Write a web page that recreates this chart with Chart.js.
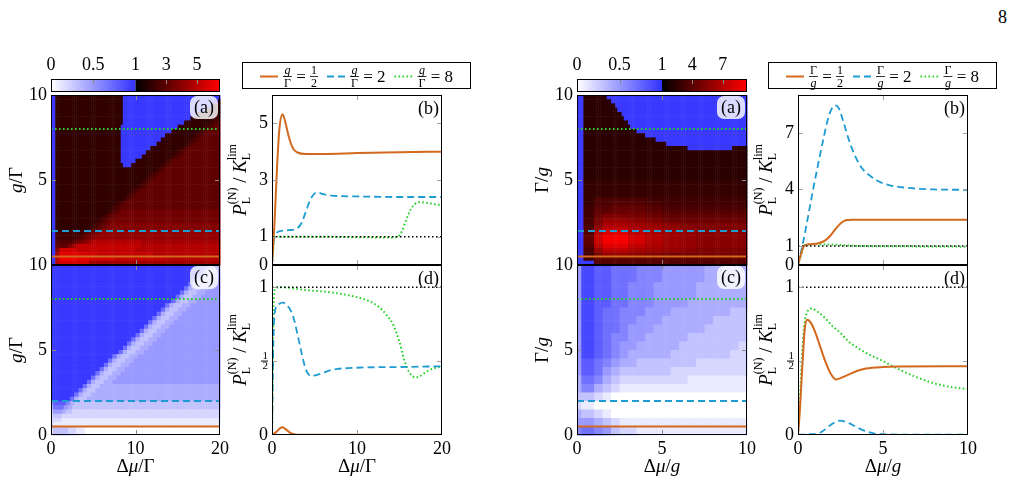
<!DOCTYPE html>
<html>
<head>
<meta charset="utf-8">
<script src="https://cdn.jsdelivr.net/npm/chart.js@4.4.1/dist/chart.umd.min.js"></script>
<style>
  body { margin: 0; background: #fff; }
  #page { position: relative; width: 1013px; height: 484px; overflow: hidden; }
  #page canvas { position: absolute; left: 0; top: 0; }
  #pageno { position: absolute; right: 6px; top: 7px; font: 18px "Liberation Serif", serif; }
</style>
</head>
<body>
<div id="page">
  <div id="pageno">8</div>
  <canvas id="cbLeft" width="1013" height="484"></canvas>
  <canvas id="heatLA" width="1013" height="484"></canvas>
  <canvas id="heatLC" width="1013" height="484"></canvas>
  <canvas id="plotLB" width="1013" height="484"></canvas>
  <canvas id="plotLD" width="1013" height="484"></canvas>
  <canvas id="cbRight" width="1013" height="484"></canvas>
  <canvas id="heatRA" width="1013" height="484"></canvas>
  <canvas id="heatRC" width="1013" height="484"></canvas>
  <canvas id="plotRB" width="1013" height="484"></canvas>
  <canvas id="plotRD" width="1013" height="484"></canvas>
</div>
<script>
// ---------------- data ----------------
const guideLevels = [0.5, 2, 8];            // the three cuts: g/Γ (left), Γ/g (right)
const legendValues = ['1/2', '2', '8'];
const refLevel = 1;                          // black dotted reference

// colour bars
const cbTicksLeft = [0, 0.5, 1, 3, 5];
const cbTicksRight = [0, 0.5, 1, 4, 7];
const cbMaxLeft = 6.5;
const cbMaxRight = 9.4;

// axis ticks
const xTicksLeft = [0, 10, 20];
const xTicksRight = [0, 5, 10];
const heatYTicksA = [5, 10];
const heatYTicksC = [0, 5, 10];
const bTicksLeft = [0, 1, 3, 5];
const bTicksRight = [0, 1, 4, 7];
const dTicks = [0, 0.5, 1];

// heat maps: 80 x 40 cells, rows listed from the top (y=10) down to y=0,
// written as runs "count:code"; code '0'..'9' -> 0.0..0.9, 'B' -> 0.97,
// 'a','b',.. -> 1.35, 1.70, .. (step 0.35)
const heatCols = 80;
const heatRowCount = 40;

const heatLeftA = [
  '2:B 32:c 46:B',
  '2:B 32:c 45:B 1:c',
  '2:B 32:c 42:B 4:c',
  '2:B 32:c 39:B 7:c',
  '2:B 32:c 35:B 11:c',
  '2:B 32:c 32:B 11:c 2:d 1:e',
  '2:B 32:c 29:B 12:c 2:d 2:e 1:f',
  '2:B 31:c 27:B 13:c 2:d 2:e 3:f',
  '2:B 31:c 24:B 13:c 2:d 2:e 6:f',
  '2:B 31:c 21:B 14:c 2:d 2:e 8:f',
  '2:B 31:c 19:B 14:c 2:d 2:e 10:f',
  '2:B 31:c 17:B 14:c 2:d 2:e 12:f',
  '2:B 31:c 14:B 14:c 2:d 2:e 15:f',
  '2:B 31:c 12:B 14:c 2:d 2:e 17:f',
  '2:B 31:c 10:B 14:c 2:d 2:e 19:f',
  '2:B 31:c 7:B 14:c 2:d 2:e 22:f',
  '2:B 32:c 4:B 14:c 2:d 2:e 24:f',
  '2:B 48:c 2:d 2:e 26:f',
  '2:B 45:c 2:d 2:e 29:f',
  '2:B 43:c 2:d 2:e 31:f',
  '2:B 41:c 2:d 2:e 33:f',
  '2:B 39:c 2:d 2:e 35:f',
  '2:B 36:c 2:d 2:e 38:f',
  '2:B 34:c 2:d 2:e 40:f',
  '2:B 32:c 2:d 2:e 42:f',
  '2:B 29:c 2:d 2:e 45:f',
  '2:B 27:c 2:d 2:e 47:f',
  '2:B 25:c 2:d 2:e 2:f 47:g',
  '2:B 22:c 2:d 2:e 2:f 50:g',
  '2:B 20:c 2:d 2:e 2:f 52:g',
  '2:B 18:c 2:d 2:e 2:f 2:g 52:h',
  '2:B 16:c 2:d 2:e 2:f 2:g 54:h',
  '2:B 13:d 2:e 2:f 2:g 2:h 57:i',
  '2:B 11:d 2:e 2:f 2:g 2:h 59:i',
  '2:B 9:e 2:f 2:g 2:h 2:i 24:k 37:j',
  '2:B 6:f 2:h 2:j 30:l 38:k',
  '2:B 2:h 8:m 28:l 40:k',
  '2:B 2:j 10:n 8:m 26:l 32:k',
  '2:B 2:k 8:o 6:n 12:m 24:l 26:k',
  '2:B 2:k 14:m 62:j',
];
const heatLeftC = [
  '73:B 2:7 2:4 3:3',
  '71:B 2:7 2:4 4:3 1:4',
  '69:B 2:7 2:4 4:3 3:4',
  '67:B 2:7 2:4 4:3 4:4 1:5',
  '65:B 2:7 2:4 4:3 4:4 3:5',
  '63:B 2:7 2:4 4:3 4:4 5:5',
  '61:B 2:7 2:4 4:3 4:4 7:5',
  '59:B 2:7 2:4 4:3 4:4 9:5',
  '57:B 2:7 2:4 4:3 4:4 11:5',
  '54:B 2:7 2:4 4:3 4:4 14:5',
  '52:B 2:7 2:4 4:3 4:4 16:5',
  '50:B 2:7 2:4 4:3 4:4 18:5',
  '48:B 2:7 2:4 4:3 4:4 20:5',
  '46:B 2:7 2:4 4:3 4:4 22:5',
  '44:B 2:7 2:4 4:3 4:4 24:5',
  '42:B 2:7 2:4 4:3 4:4 26:5',
  '40:B 2:7 2:4 4:3 4:4 28:5',
  '38:B 2:7 2:4 4:3 4:4 30:5',
  '36:B 2:7 2:4 4:3 4:4 32:5',
  '34:B 2:7 2:4 4:3 4:4 34:5',
  '32:B 2:7 2:4 4:3 4:4 36:5',
  '29:B 2:7 2:4 4:3 4:4 39:5',
  '27:B 2:7 2:4 4:3 4:4 41:5',
  '25:B 2:7 2:4 4:3 4:4 43:5',
  '23:B 2:7 2:4 4:3 4:4 45:5',
  '21:B 2:7 2:4 4:3 4:4 47:5',
  '19:B 2:7 2:4 4:3 4:4 49:5',
  '17:B 2:7 2:4 4:3 4:4 51:5',
  '15:B 2:7 2:4 4:3 57:4',
  '13:B 2:7 2:4 4:3 59:4',
  '11:B 2:7 2:4 4:3 61:4',
  '9:B 2:7 2:4 4:3 63:4',
  '1:5 6:8 2:6 2:4 69:3',
  '1:4 5:7 2:5 2:4 70:3',
  '1:3 4:5 2:4 3:3 70:2',
  '1:2 4:3 75:2',
  '1:2 4:2 75:1',
  '1:2 79:1',
  '1:2 7:3 4:2 4:1 64:0',
  '1:1 7:3 4:2 4:1 64:0',
];
const heatRightA = [
  '3:B 11:d 66:B',
  '3:B 13:d 64:B',
  '3:B 15:d 62:B',
  '3:B 16:d 61:B',
  '3:B 18:d 59:B',
  '3:B 19:d 58:B',
  '3:B 21:d 56:B',
  '3:B 22:d 55:B',
  '3:B 25:d 52:B',
  '3:B 29:d 48:B',
  '3:B 34:d 43:B',
  '3:B 39:d 38:B',
  '3:B 49:d 21:B 7:d',
  '3:B 77:d',
  '3:B 77:d',
  '3:B 77:d',
  '3:B 77:d',
  '3:B 77:d',
  '3:B 77:d',
  '3:B 77:d',
  '3:B 77:e',
  '3:B 77:e',
  '3:B 77:e',
  '3:B 77:e',
  '3:B 5:e 24:g 48:f',
  '3:B 5:e 8:g 16:h 8:g 40:f',
  '3:B 5:f 8:h 16:i 8:h 40:g',
  '3:B 5:f 8:i 16:j 8:i 40:h',
  '3:B 5:f 4:j 12:l 8:k 8:j 40:i',
  '3:B 5:g 4:k 12:n 8:m 8:l 40:j',
  '3:B 5:g 4:l 12:p 8:o 8:n 8:m 32:l',
  '3:B 5:h 4:n 12:r 8:p 8:o 8:n 8:m 24:l',
  '3:B 5:h 4:q 12:u 8:r 8:p 8:o 8:n 24:m',
  '3:B 5:i 4:s 12:w 8:t 8:q 8:o 8:n 24:m',
  '3:B 5:i 4:s 12:w 8:t 8:q 8:o 8:n 24:m',
  '3:B 5:h 4:q 12:u 8:r 8:p 8:o 8:n 24:m',
  '3:B 5:g 4:n 12:r 8:p 8:o 8:n 8:m 24:l',
  '3:B 5:f 4:k 12:n 8:m 8:l 40:k',
  '3:B 5:f 72:i',
  '8:B 72:h',
];
const heatRightC = [
  '2:5 6:9 8:8 12:7 12:6 20:5 20:4',
  '2:5 6:9 8:8 12:7 12:6 20:5 20:4',
  '2:5 6:9 8:8 12:7 12:6 20:5 20:4',
  '2:5 6:9 8:8 12:7 12:6 20:5 20:4',
  '2:5 6:9 8:8 8:7 12:6 20:5 24:4',
  '2:5 6:9 8:8 8:7 12:6 20:5 24:4',
  '2:5 6:9 8:8 8:7 12:6 20:5 24:4',
  '2:5 6:9 8:8 8:7 12:6 20:5 24:4',
  '2:5 6:9 8:8 8:7 12:6 16:5 28:4',
  '2:5 6:9 8:8 8:7 12:6 16:5 28:4',
  '2:5 6:9 4:8 8:7 12:6 12:5 28:4 8:3',
  '2:5 6:9 4:8 8:7 12:6 12:5 28:4 8:3',
  '2:5 6:9 4:8 8:7 8:6 12:5 24:4 16:3',
  '2:5 6:9 4:8 8:7 8:6 12:5 24:4 16:3',
  '2:5 6:9 4:8 8:7 4:6 12:5 24:4 20:3',
  '2:5 6:9 4:8 8:7 4:6 12:5 24:4 20:3',
  '2:5 6:9 4:8 4:7 8:6 8:5 20:4 28:3',
  '2:5 6:9 4:8 4:7 8:6 8:5 20:4 28:3',
  '2:5 6:9 4:8 4:7 4:6 8:5 20:4 28:3 4:2',
  '2:5 6:9 4:8 4:7 4:6 8:5 20:4 28:3 4:2',
  '2:5 6:9 4:8 4:7 4:6 4:5 20:4 28:3 8:2',
  '2:5 6:9 4:8 4:7 4:6 4:5 20:4 28:3 8:2',
  '2:5 6:8 4:7 4:6 4:5 8:4 28:3 24:2',
  '2:5 6:8 4:7 4:6 4:5 8:4 28:3 24:2',
  '2:5 6:8 4:7 4:5 4:4 24:3 36:2',
  '2:5 6:8 4:7 4:5 4:4 24:3 36:2',
  '2:4 6:7 4:6 4:4 4:3 32:2 28:1',
  '2:4 6:7 4:6 4:4 4:3 32:2 28:1',
  '2:4 6:6 4:4 4:3 4:2 60:1',
  '2:4 6:6 4:4 4:3 4:2 60:1',
  '2:3 6:3 4:2 4:1 64:0',
  '2:3 6:3 4:2 4:1 64:0',
  '2:2 6:1 72:0',
  '2:2 6:1 72:0',
  '2:4 6:3 4:2 4:1 64:0',
  '2:4 6:3 4:2 4:1 64:0',
  '2:5 6:5 4:4 4:3 4:2 60:1',
  '2:5 6:5 4:4 4:3 4:2 60:1',
  '2:6 6:7 4:6 4:5 4:3 8:2 52:1',
  '2:6 6:7 4:6 4:5 4:3 8:2 52:1',
];

// line cuts [x, y]
const leftB_half = [[0,0],[0.3,1.5],[0.6,3.5],[0.9,4.9],[1.25,5.32],[1.6,5.0],[2,4.5],[2.5,4.1],[3,3.97],[4,3.92],[6,3.92],[10,3.95],[15,3.98],[20,4.0]];
const leftB_two = [[0,0],[0.2,0.9],[0.5,1.12],[1,1.2],[2,1.23],[3,1.3],[3.5,1.5],[4,1.9],[4.5,2.3],[5,2.52],[5.3,2.56],[6,2.5],[7,2.45],[10,2.42],[15,2.4],[20,2.4]];
const leftB_eight = [[0,0],[0.3,0.95],[0.6,1.0],[5,1.0],[10,0.98],[14,0.97],[14.8,1.0],[15.3,1.2],[15.8,1.6],[16.3,1.95],[16.8,2.15],[17.4,2.22],[18,2.2],[19,2.15],[20,2.1]];
const leftD_half = [[0,0],[0.5,0.02],[1,0.048],[1.2,0.052],[1.6,0.04],[2.2,0.012],[3,0.002],[20,0.002]];
const leftD_two = [[0,0],[0.15,0.6],[0.3,0.82],[0.7,0.88],[1.3,0.895],[2,0.86],[2.5,0.8],[3,0.68],[3.5,0.55],[4,0.44],[4.6,0.4],[5.5,0.41],[7,0.44],[10,0.455],[15,0.46],[20,0.465]];
const leftD_eight = [[0,0],[0.2,0.9],[0.4,0.99],[1,1.0],[4,0.98],[7,0.965],[9,0.945],[11,0.915],[12.5,0.87],[13.5,0.81],[14.3,0.74],[15,0.63],[15.6,0.5],[16.2,0.42],[16.9,0.39],[17.5,0.4],[18.2,0.43],[19,0.45],[20,0.465]];
const rightB_half = [[0,0],[0.15,0.5],[0.35,1.0],[0.7,1.1],[1.2,1.15],[1.6,1.3],[1.9,1.55],[2.2,1.9],[2.5,2.2],[2.8,2.37],[3.2,2.4],[5,2.4],[10,2.4]];
const rightB_two = [[0,0],[0.3,1.2],[0.6,2.6],[0.9,4.05],[1.2,5.4],[1.5,6.7],[1.8,7.85],[2.0,8.3],[2.2,8.45],[2.4,8.3],[2.7,7.5],[3.0,6.6],[3.3,5.9],[3.7,5.2],[4.2,4.75],[4.7,4.45],[5.4,4.22],[6.5,4.08],[8,4.0],[10,3.98]];
const rightB_eight = [[0,0],[0.2,0.6],[0.4,1.05],[1,1.1],[2,1.08],[3,1.03],[4,1.0],[6,0.99],[10,0.97]];
const rightD_half = [[0,0],[0.1,0.15],[0.2,0.35],[0.3,0.55],[0.4,0.72],[0.55,0.78],[0.75,0.76],[1.0,0.7],[1.3,0.6],[1.6,0.5],[1.9,0.42],[2.25,0.375],[2.6,0.39],[3,0.41],[3.5,0.435],[4,0.45],[5,0.46],[6,0.463],[10,0.465]];
const rightD_two = [[0,0],[0.5,0.005],[1,0.005],[1.5,0.03],[2,0.075],[2.45,0.097],[3,0.08],[3.5,0.05],[4,0.025],[4.5,0.01],[5,0.005],[6,0.003],[10,0.003]];
const rightD_eight = [[0,0],[0.1,0.2],[0.2,0.45],[0.35,0.72],[0.5,0.82],[0.8,0.855],[1.2,0.83],[1.6,0.79],[2,0.74],[2.5,0.69],[3,0.63],[3.5,0.59],[4,0.555],[5,0.5],[6,0.44],[7,0.39],[8,0.35],[9,0.325],[10,0.31]];

// ---------------- look ----------------
const SERIF = '"Liberation Serif", "DejaVu Serif", serif';
Chart.defaults.font.family = SERIF;
Chart.defaults.font.size = 18;
Chart.defaults.color = '#000';

const PAGE_W = 1013, PAGE_H = 484;
const YAXIS_W = 40, XAXIS_H = 28, CB_AXIS_H = 32;
const TICK_FONT = { family: SERIF, size: 18 };
const lineStyles = [
  { color: 'rgb(210, 105, 30)', dash: [], width: 2 },
  { color: 'rgb(30, 155, 210)', dash: [7, 4], width: 1.8 },
  { color: 'rgb(40, 210, 40)', dash: [1.6, 2.4], width: 2 },
];

const titleGL = [{ t: 'g', it: 1 }, { t: '/Γ' }];
const titleGR = [{ t: 'Γ/' }, { t: 'g', it: 1 }];
const titleXL = [{ t: 'Δ' }, { t: 'μ', it: 1 }, { t: '/Γ' }];
const titleXR = [{ t: 'Δ' }, { t: 'μ', it: 1 }, { t: '/' }, { t: 'g', it: 1 }];
const titleB = [{ t: 'P', it: 1 }, { t: '(N)', sz: 12, dy: -8, keep: 1 }, { t: 'L', sz: 12, dy: 6 },
  { t: ' / ' }, { t: 'K', it: 1 }, { t: 'lim', sz: 12, dy: -8, keep: 1 }, { t: 'L', sz: 12, dy: 6 }];
const titleD = titleB;

function font(sz, it) { return (it ? 'italic ' : '') + sz + 'px ' + SERIF; }

function drawRich(ctx, cx, cy, parts, rot) {
  ctx.save();
  ctx.translate(cx, cy);
  if (rot) ctx.rotate(-Math.PI / 2);
  const adv = () => {
    let x = 0, keepW = 0;
    parts.forEach(p => {
      ctx.font = font(p.sz || 19, p.it);
      const w = ctx.measureText(p.t).width;
      if (p.keep) { keepW = w; return; }
      x += Math.max(w, keepW); keepW = 0;
    });
    return x;
  };
  let x = -adv() / 2, keepW = 0;
  ctx.textBaseline = 'middle'; ctx.textAlign = 'left'; ctx.fillStyle = '#000';
  parts.forEach(p => {
    ctx.font = font(p.sz || 19, p.it);
    ctx.fillText(p.t, x, p.dy || 0);
    const w = ctx.measureText(p.t).width;
    if (p.keep) { keepW = w; return; }
    x += Math.max(w, keepW); keepW = 0;
  });
  ctx.restore();
}

function expandRow(s) {
  let out = '';
  s.split(' ').forEach(tok => {
    const [n, ch] = tok.split(':');
    out += ch.repeat(+n);
  });
  return out;
}
function cellValue(ch) {
  const k = ch.charCodeAt(0);
  if (k >= 48 && k <= 57) return (k - 48) / 10;
  if (ch === 'B') return 0.97;
  return 1 + 0.35 * (k - 96);
}
function cellColor(v, vmax) {
  if (v <= 1) {
    const c = Math.round(255 - v * 205);
    return 'rgb(' + c + ',' + c + ',255)';
  }
  const r = Math.round(255 * Math.min(1, (v - 1) / (vmax - 1)));
  return 'rgb(' + r + ',0,0)';
}

// ---------------- plugins ----------------
function heatLayer(rows, xMax, vmax) {
  const cells = rows.map(expandRow);
  return {
    id: 'heatLayer',
    beforeDatasetsDraw(chart) {
      const { ctx, scales: { x, y } } = chart;
      ctx.save();
      cells.forEach((row, r) => {
        const yTop = y.getPixelForValue(10 - 10 * r / heatRowCount);
        const yBot = y.getPixelForValue(10 - 10 * (r + 1) / heatRowCount);
        for (let c = 0; c < row.length; c++) {
          const x0 = x.getPixelForValue(xMax * c / heatCols);
          const x1 = x.getPixelForValue(xMax * (c + 1) / heatCols);
          ctx.fillStyle = cellColor(cellValue(row[c]), vmax);
          ctx.fillRect(x0, yTop, x1 - x0 + 0.5, yBot - yTop + 0.5);
        }
      });
      ctx.restore();
    }
  };
}

function colorbarLayer(ticks, vmax, pos) {
  return {
    id: 'cbLayer',
    beforeDatasetsDraw(chart) {
      const { ctx, chartArea: a, scales: { x } } = chart;
      const xm = x.getPixelForValue(1);
      ctx.save();
      let g = ctx.createLinearGradient(a.left, 0, xm, 0);
      g.addColorStop(0, cellColor(0, vmax)); g.addColorStop(1, cellColor(1, vmax));
      ctx.fillStyle = g; ctx.fillRect(a.left, a.top, xm - a.left, a.bottom - a.top);
      g = ctx.createLinearGradient(xm, 0, a.right, 0);
      g.addColorStop(0, cellColor(1.0001, vmax)); g.addColorStop(1, cellColor(vmax, vmax));
      ctx.fillStyle = g; ctx.fillRect(xm, a.top, a.right - xm, a.bottom - a.top);
      ctx.strokeStyle = '#888'; ctx.lineWidth = 1;
      ctx.beginPath();
      ticks.forEach(v => {
        if (v === 0 || v === 1) return;
        const px = Math.round(x.getPixelForValue(pos(v))) + 0.5;
        ctx.moveTo(px, a.top); ctx.lineTo(px, a.top + 5);
      });
      ctx.stroke();
      ctx.strokeStyle = '#000';
      ctx.strokeRect(a.left + 0.5, a.top + 0.5, a.right - a.left - 1, a.bottom - a.top - 1);
      ctx.restore();
    }
  };
}

function decor(o) {
  return {
    id: 'decor',
    afterDatasetsDraw(chart) {
      const { ctx, chartArea: a, scales: { x, y } } = chart;
      ctx.save();
      ctx.strokeStyle = o.tickColor; ctx.lineWidth = 1;
      ctx.beginPath();
      o.tickX.forEach(v => {
        const px = Math.round(x.getPixelForValue(v)) + 0.5;
        ctx.moveTo(px, a.top); ctx.lineTo(px, a.top + 5);
        ctx.moveTo(px, a.bottom); ctx.lineTo(px, a.bottom - 5);
      });
      o.tickY.forEach(v => {
        const py = Math.round(y.getPixelForValue(v)) + 0.5;
        ctx.moveTo(a.left, py); ctx.lineTo(a.left + 5, py);
        ctx.moveTo(a.right, py); ctx.lineTo(a.right - 5, py);
      });
      ctx.stroke();
      ctx.strokeStyle = '#000';
      ctx.strokeRect(a.left + 0.5, a.top + 0.5, a.right - a.left - 1, a.bottom - a.top - 1);
      ctx.font = font(18);
      ctx.textBaseline = 'middle';
      if (o.boxed) {
        ctx.fillStyle = 'rgba(255,255,255,0.82)';
        ctx.beginPath(); ctx.roundRect(a.right - 30, a.top + 1, 28, 23, 7); ctx.fill();
        ctx.fillStyle = '#000'; ctx.textAlign = 'center';
        ctx.fillText(o.label, a.right - 16, a.top + 13);
      } else {
        ctx.fillStyle = '#000'; ctx.textAlign = 'right';
        ctx.fillText(o.label, a.right - 3, a.top + 14);
      }
      if (o.halfTick) {
        const py = y.getPixelForValue(0.5);
        ctx.fillRect(a.left - 11, py - 0.5, 7, 1);
      }
      ctx.restore();
    },
    afterDraw(chart) {
      const { ctx, chartArea: a } = chart;
      if (o.yTitle) drawRich(ctx, a.left - o.yTitleOff, (a.top + a.bottom) / 2, o.yTitle, true);
      if (o.xTitle) drawRich(ctx, (a.left + a.right) / 2, a.bottom + 32, o.xTitle, false);
    }
  };
}

function drawFrac(ctx, x, cy, num, den, numIt, denIt) {
  ctx.font = font(12, numIt); const wn = ctx.measureText(num).width;
  ctx.font = font(12, denIt); const wd = ctx.measureText(den).width;
  const w = Math.max(wn, wd) + 2;
  ctx.textAlign = 'center'; ctx.textBaseline = 'middle';
  ctx.font = font(12, numIt); ctx.fillText(num, x + w / 2, cy - 6);
  ctx.font = font(12, denIt); ctx.fillText(den, x + w / 2, cy + 7);
  ctx.fillRect(x, cy - 0.4, w, 0.8);
  return w;
}

function legendBox(num, den, numIt, denIt) {
  return {
    id: 'legendBox',
    afterDraw(chart) {
      const { ctx, chartArea: a } = chart;
      const x0 = a.left - 30, x1 = a.right + 29, y0 = a.top - 33, y1 = a.top - 6;
      const cy = (y0 + y1) / 2 + 1;
      ctx.save();
      ctx.fillStyle = '#fff'; ctx.fillRect(x0, y0, x1 - x0, y1 - y0);
      ctx.strokeStyle = '#000'; ctx.lineWidth = 1;
      ctx.strokeRect(x0 + 0.5, y0 + 0.5, x1 - x0 - 1, y1 - y0 - 1);
      const ds = chart.data.datasets.slice(1, 4);
      // first pass measures only, second pass draws
      const pass = (startX, draw) => {
        let x = startX;
        ds.forEach((d, i) => {
          if (draw) {
            ctx.strokeStyle = d.borderColor; ctx.lineWidth = d.borderWidth;
            ctx.setLineDash(d.borderDash || []);
            ctx.beginPath(); ctx.moveTo(x, cy); ctx.lineTo(x + 18, cy); ctx.stroke();
            ctx.setLineDash([]);
          }
          x += 23;
          ctx.fillStyle = draw ? '#000' : 'rgba(0,0,0,0)';
          x += drawFrac(ctx, x, cy, num, den, numIt, denIt);
          ctx.font = font(17); ctx.textAlign = 'left'; ctx.textBaseline = 'middle';
          if (draw) ctx.fillText(' = ', x, cy + 1);
          x += ctx.measureText(' = ').width;
          const v = legendValues[i];
          if (v.indexOf('/') > 0) {
            const [n, m] = v.split('/');
            x += drawFrac(ctx, x, cy, n, m, false, false);
          } else {
            ctx.font = font(17); ctx.textAlign = 'left';
            if (draw) ctx.fillText(v, x, cy + 1);
            x += ctx.measureText(v).width;
          }
          x += 9;
        });
        return x - 9 - startX;
      };
      const total = pass(0, false);
      pass(x0 + (x1 - x0 - total) / 2, true);
      ctx.restore();
    }
  };
}

// ---------------- charts ----------------
const noGrid = { display: false, drawTicks: false };
function axisX(max, ticks) {
  if (!ticks) return { type: 'linear', min: 0, max: max, display: false };
  return {
    type: 'linear', min: 0, max: max,
    afterFit(s) { s.height = XAXIS_H; },
    afterBuildTicks(s) { s.ticks = ticks.map(v => ({ value: v })); },
    ticks: { padding: 3, autoSkip: false, maxRotation: 0, font: TICK_FONT, callback: v => String(v) },
    grid: noGrid, border: { display: false }
  };
}
function axisY(max, ticks, half) {
  return {
    type: 'linear', min: 0, max: max,
    afterFit(s) { s.width = YAXIS_W; },
    afterBuildTicks(s) { s.ticks = ticks.map(v => ({ value: v })); },
    ticks: {
      padding: 4, autoSkip: false,
      callback: v => (half && v === 0.5) ? ['1', '2'] : String(v),
      font: c => (half && c.tick && c.tick.value === 0.5)
        ? { family: SERIF, size: 11, lineHeight: 0.9 } : TICK_FONT
    },
    grid: noGrid, border: { display: false }
  };
}
function padFor(area, showX) {
  return {
    left: area[0] - YAXIS_W, top: area[1],
    right: PAGE_W - area[2], bottom: PAGE_H - area[3] - (showX ? XAXIS_H : 0)
  };
}
function baseOptions(area, showX, xMax, xTicks, yMax, yTicks, half) {
  return {
    responsive: false, animation: false, events: [],
    layout: { padding: padFor(area, showX) },
    plugins: { legend: { display: false }, tooltip: { enabled: false } },
    scales: { x: axisX(xMax, showX ? xTicks : null), y: axisY(yMax, yTicks, half) }
  };
}
function lineSet(pairs, st, smooth) {
  return {
    data: pairs.map(p => ({ x: p[0], y: p[1] })),
    borderColor: st.color, borderWidth: st.width, borderDash: st.dash,
    pointRadius: 0, fill: false,
    cubicInterpolationMode: smooth ? 'monotone' : 'default', tension: 0
  };
}

function colorbar(id, area, ticks, vmax) {
  const pos = v => v <= 1 ? v : 1 + (v - 1) / (vmax - 1);
  new Chart(document.getElementById(id), {
    type: 'line',
    data: { datasets: [] },
    options: {
      responsive: false, animation: false, events: [],
      layout: { padding: { left: area[0], right: PAGE_W - area[2], top: area[1] - CB_AXIS_H, bottom: PAGE_H - area[3] } },
      plugins: { legend: { display: false }, tooltip: { enabled: false } },
      scales: {
        x: {
          type: 'linear', position: 'top', min: 0, max: 2,
          afterFit(s) { s.height = CB_AXIS_H; },
          afterBuildTicks(s) { s.ticks = ticks.map(v => ({ value: pos(v) })); },
          ticks: { padding: 3, autoSkip: false, maxRotation: 0, font: TICK_FONT, callback: (v, i) => String(ticks[i]) },
          grid: noGrid, border: { display: false }
        },
        y: { display: false, min: 0, max: 1 }
      }
    },
    plugins: [colorbarLayer(ticks, vmax, pos)]
  });
}

function heatPanel(id, area, o) {
  const datasets = guideLevels.map((lv, i) => lineSet([[0, lv], [o.xMax, lv]], lineStyles[i], false));
  new Chart(document.getElementById(id), {
    type: 'line',
    data: { datasets: datasets },
    options: baseOptions(area, !!o.xTitle, o.xMax, o.xTicks, 10, o.yTicks, false),
    plugins: [heatLayer(o.rows, o.xMax, o.vmax), decor({
      tickColor: '#8c8c8c', tickX: [o.xMax / 2], tickY: [5], boxed: true, label: o.label,
      yTitle: o.yTitle, yTitleOff: 34, xTitle: o.xTitle
    })]
  });
}

function plotPanel(id, area, o) {
  const datasets = [lineSet([[0, refLevel], [o.xMax, refLevel]], { color: '#000', dash: [1.5, 2.5], width: 1.5 }, false)]
    .concat(o.series.map((s, i) => lineSet(s, lineStyles[i], true)));
  const plugins = [decor({
    tickColor: '#a0a0a0', tickX: [o.xMax / 2], tickY: o.innerY, boxed: false, label: o.label,
    yTitle: o.yTitle, yTitleOff: 31, xTitle: o.xTitle, halfTick: o.half
  })];
  if (o.legend) plugins.push(legendBox(o.legend[0], o.legend[1], o.legend[2], o.legend[3]));
  new Chart(document.getElementById(id), {
    type: 'line',
    data: { datasets: datasets },
    options: baseOptions(area, !!o.xTitle, o.xMax, o.xTicks, o.yMax, o.yTicks, o.half),
    plugins: plugins
  });
}

// left block: Δμ/Γ, g/Γ
colorbar('cbLeft', [51, 79, 220, 92], cbTicksLeft, cbMaxLeft);
heatPanel('heatLA', [51, 95, 220, 265], { rows: heatLeftA, vmax: cbMaxLeft, xMax: 20, xTicks: xTicksLeft, yTicks: heatYTicksA, label: '(a)', yTitle: titleGL });
heatPanel('heatLC', [51, 265, 220, 435], { rows: heatLeftC, vmax: cbMaxLeft, xMax: 20, xTicks: xTicksLeft, yTicks: heatYTicksC, label: '(c)', yTitle: titleGL, xTitle: titleXL });
plotPanel('plotLB', [272, 95, 442, 265], { series: [leftB_half, leftB_two, leftB_eight], xMax: 20, xTicks: xTicksLeft, yMax: 6, yTicks: bTicksLeft, innerY: [1, 3, 5], label: '(b)', yTitle: titleB, legend: ['g', 'Γ', true, false] });
plotPanel('plotLD', [272, 265, 442, 435], { series: [leftD_half, leftD_two, leftD_eight], xMax: 20, xTicks: xTicksLeft, yMax: 1.15, yTicks: dTicks, innerY: [0.5, 1], half: true, label: '(d)', yTitle: titleD, xTitle: titleXL });

// right block: Δμ/g, Γ/g
colorbar('cbRight', [577, 79, 747, 92], cbTicksRight, cbMaxRight);
heatPanel('heatRA', [577, 95, 747, 265], { rows: heatRightA, vmax: cbMaxRight, xMax: 10, xTicks: xTicksRight, yTicks: heatYTicksA, label: '(a)', yTitle: titleGR });
heatPanel('heatRC', [577, 265, 747, 435], { rows: heatRightC, vmax: cbMaxRight, xMax: 10, xTicks: xTicksRight, yTicks: heatYTicksC, label: '(c)', yTitle: titleGR, xTitle: titleXR });
plotPanel('plotRB', [798, 95, 968, 265], { series: [rightB_half, rightB_two, rightB_eight], xMax: 10, xTicks: xTicksRight, yMax: 9, yTicks: bTicksRight, innerY: [1, 4, 7], label: '(b)', yTitle: titleB, legend: ['Γ', 'g', false, true] });
plotPanel('plotRD', [798, 265, 968, 435], { series: [rightD_half, rightD_two, rightD_eight], xMax: 10, xTicks: xTicksRight, yMax: 1.15, yTicks: dTicks, innerY: [0.5, 1], half: true, label: '(d)', yTitle: titleD, xTitle: titleXR });
</script>
</body>
</html>
